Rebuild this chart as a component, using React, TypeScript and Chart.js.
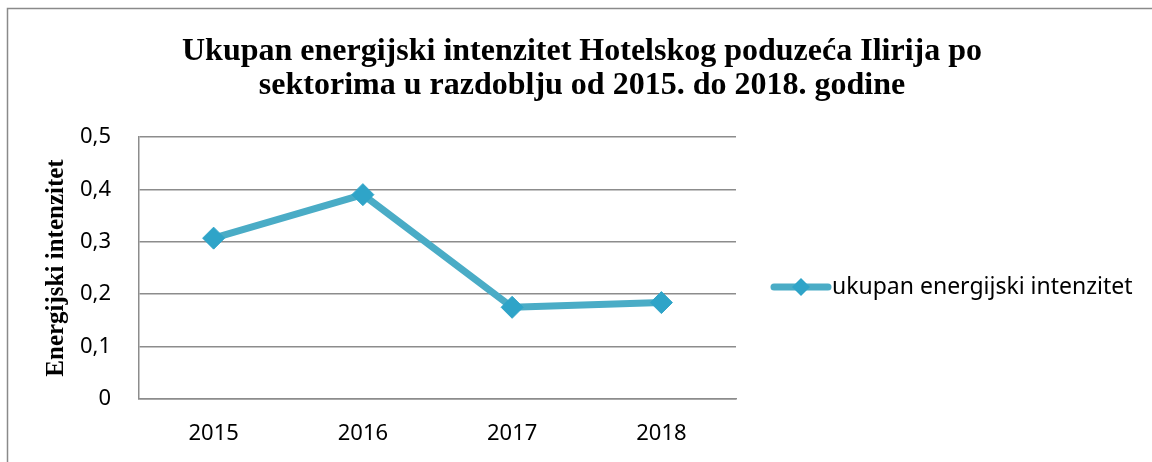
import React, { useEffect, useRef } from "react";
import { Chart, registerables } from "chart.js";

Chart.register(...registerables);

const years = ["2015", "2016", "2017", "2018"];
const intensity = [0.307, 0.39, 0.175, 0.184];
const yTickLabels = ["0", "0,1", "0,2", "0,3", "0,4", "0,5"];
const seriesLabel = "ukupan energijski intenzitet";
const titleLines = [
  "Ukupan energijski intenzitet Hotelskog poduzeća Ilirija po",
  "sektorima u razdoblju od 2015. do 2018. godine",
];
const yAxisTitle = "Energijski intenzitet";

const LINE_COLOR = "#4aacc6";
const MARKER_COLOR = "#2fa4c8";
const GRID_COLOR = "#8c8c8c";
const SANS = "'Noto Sans'";
const SERIF = "'Liberation Serif', 'Times New Roman', serif";

const framePlugin = {
  id: "frame",
  beforeDraw(chart: any) {
    const { ctx, width, height } = chart;
    ctx.save();
    ctx.fillStyle = "#ffffff";
    ctx.fillRect(0, 0, width, height);
    ctx.strokeStyle = "#8a8a8a";
    ctx.lineWidth = 1.5;
    ctx.beginPath();
    ctx.moveTo(7.5, height + 5);
    ctx.lineTo(7.5, 8.5);
    ctx.lineTo(width + 5, 8.5);
    ctx.stroke();
    ctx.restore();
  },
};

const titlePlugin = {
  id: "titleText",
  afterDraw(chart: any) {
    const { ctx } = chart;
    ctx.save();
    ctx.fillStyle = "#000000";
    ctx.font = `bold 32px ${SERIF}`;
    ctx.textAlign = "center";
    ctx.textBaseline = "alphabetic";
    titleLines.forEach((line, i) => {
      ctx.fillText(line, 582, 60 + i * 34);
    });
    ctx.restore();
  },
};

const legendPlugin = {
  id: "sideLegend",
  afterDraw(chart: any) {
    const { ctx } = chart;
    const ds = chart.data.datasets[0];
    const y = 287;
    const x0 = 774;
    const x1 = 828;
    ctx.save();
    ctx.strokeStyle = ds.borderColor;
    ctx.lineWidth = 7;
    ctx.lineCap = "round";
    ctx.beginPath();
    ctx.moveTo(x0, y);
    ctx.lineTo(x1, y);
    ctx.stroke();
    const cx = (x0 + x1) / 2;
    const r = 9;
    ctx.fillStyle = ds.pointBackgroundColor;
    ctx.beginPath();
    ctx.moveTo(cx, y - r);
    ctx.lineTo(cx + r, y);
    ctx.lineTo(cx, y + r);
    ctx.lineTo(cx - r, y);
    ctx.closePath();
    ctx.fill();
    ctx.fillStyle = "#000000";
    ctx.font = `23px ${SANS}`;
    ctx.textAlign = "left";
    ctx.textBaseline = "middle";
    ctx.fillText(ds.label, 832, y);
    ctx.restore();
  },
};

export default function App() {
  const canvasRef = useRef<HTMLCanvasElement | null>(null);

  useEffect(() => {
    if (!canvasRef.current) return;
    const chart = new Chart(canvasRef.current, {
      type: "line",
      data: {
        labels: years,
        datasets: [
          {
            label: seriesLabel,
            data: intensity,
            borderColor: LINE_COLOR,
            backgroundColor: LINE_COLOR,
            borderWidth: 7,
            pointStyle: "rectRot",
            pointRadius: 11,
            pointHoverRadius: 11,
            pointBackgroundColor: MARKER_COLOR,
            pointBorderColor: MARKER_COLOR,
            pointBorderWidth: 1,
            tension: 0,
            borderJoinStyle: "round",
          } as any,
        ],
      },
      options: {
        responsive: false,
        animation: false,
        layout: { padding: { left: 0, right: 416, top: 137, bottom: 0 } },
        plugins: {
          legend: { display: false },
          title: { display: false },
          tooltip: { enabled: false },
        },
        scales: {
          x: {
            offset: true,
            grid: { display: false, drawTicks: false },
            border: { display: true, color: GRID_COLOR, width: 1.5 },
            ticks: {
              color: "#000000",
              font: { family: SANS, size: 22 },
              padding: 22,
            },
            afterFit(scale: any) {
              scale.height = 63;
            },
          },
          y: {
            min: 0,
            max: 0.5,
            grid: { color: GRID_COLOR, lineWidth: 1.5, drawTicks: false },
            border: { display: true, color: GRID_COLOR, width: 1.5 },
            ticks: {
              stepSize: 0.1,
              color: "#000000",
              font: { family: SANS, size: 22 },
              padding: 28,
              callback: (_v: any, i: number) => yTickLabels[i],
            },
            title: {
              display: true,
              text: yAxisTitle,
              color: "#000000",
              font: { family: SERIF, size: 25, weight: "bold" },
              padding: { top: 42, bottom: 0 },
            },
            afterFit(scale: any) {
              scale.width = 139;
            },
          },
        },
      },
      plugins: [framePlugin, titlePlugin, legendPlugin],
    });
    return () => chart.destroy();
  }, []);

  return (
    <div style={{ position: "absolute", left: 0, top: 0, width: 1152, height: 462 }}>
      <canvas ref={canvasRef} width={1152} height={462} style={{ width: 1152, height: 462 }} />
    </div>
  );
}
